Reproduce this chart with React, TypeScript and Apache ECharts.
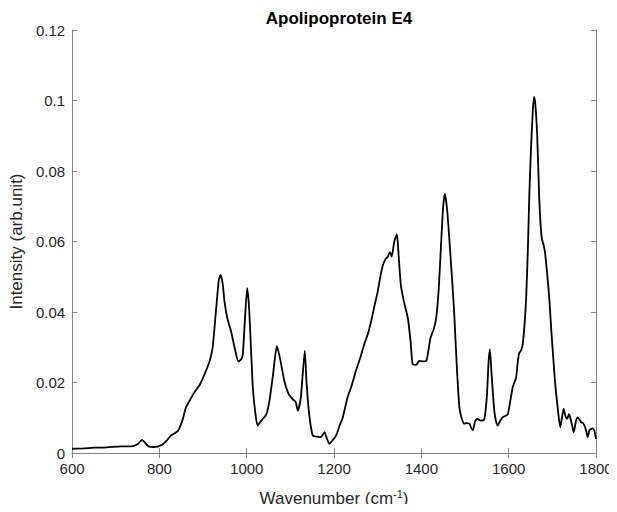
import React, { useEffect, useRef } from "react";
import * as echarts from "echarts";

const titleText = "Apolipoprotein E4";
const xTicks = [600, 800, 1000, 1200, 1400, 1600, 1800];
const yTicks = [0, 0.02, 0.04, 0.06, 0.08, 0.1, 0.12];

const wavenumber = [
  600, 625, 651, 680, 712, 735, 750, 760, 768, 775, 788, 804, 815, 827, 842, 852, 861, 870, 880, 893,
  907, 915, 922, 930, 936, 940, 945, 949, 956, 964, 972, 981, 987, 991, 995, 1001, 1005, 1008, 1014, 1020,
  1025, 1031, 1037, 1045, 1052, 1060, 1069, 1076, 1086, 1095, 1105, 1112, 1117, 1124, 1128, 1133, 1137, 1143, 1151, 1158,
  1166, 1172, 1178, 1184, 1189, 1196, 1205, 1212, 1220, 1231, 1240, 1250, 1260, 1269, 1278, 1285, 1293, 1300, 1306, 1312,
  1318, 1323, 1328, 1332, 1338, 1344, 1348, 1353, 1360, 1369, 1375, 1380, 1388, 1395, 1403, 1411, 1416, 1421, 1428, 1434,
  1440, 1445, 1450, 1454, 1459, 1464, 1470, 1475, 1481, 1487, 1492, 1498, 1504, 1510, 1514, 1518, 1523, 1528, 1536, 1544,
  1550, 1554, 1557, 1561, 1567, 1571, 1575, 1580, 1586, 1592, 1598, 1604, 1609, 1613, 1617, 1621, 1624, 1628, 1632, 1636,
  1640, 1644, 1647, 1651, 1655, 1658, 1661, 1665, 1668, 1670, 1673, 1676, 1680, 1683, 1688, 1693, 1697, 1701, 1705, 1708,
  1713, 1718, 1722, 1726, 1730, 1734, 1738, 1741, 1745, 1749, 1754, 1758, 1762, 1766, 1770, 1775, 1778, 1781, 1785, 1788,
  1792, 1796, 1800,
];

const intensity = [
  0.0012, 0.0013, 0.0015, 0.0016, 0.0019, 0.0019, 0.0025, 0.0037, 0.0028, 0.0019, 0.0017, 0.0022, 0.0033, 0.005, 0.0062, 0.009, 0.013, 0.015, 0.0172, 0.0195,
  0.0234, 0.026, 0.03, 0.041, 0.049, 0.0505, 0.048, 0.043, 0.038, 0.0346, 0.03, 0.026, 0.0265, 0.028, 0.036, 0.0468, 0.042, 0.0346, 0.0186, 0.011,
  0.0078, 0.0088, 0.0097, 0.011, 0.0148, 0.022, 0.0303, 0.027, 0.0205, 0.017, 0.0153, 0.0145, 0.012, 0.0158, 0.022, 0.029, 0.02, 0.011, 0.005, 0.0047,
  0.0045, 0.0047, 0.0059, 0.004, 0.0026, 0.0035, 0.005, 0.0075, 0.0101, 0.0158, 0.019, 0.0233, 0.027, 0.0308, 0.034, 0.0374, 0.042, 0.0458, 0.05, 0.0533,
  0.055, 0.0557, 0.057, 0.0557, 0.06, 0.062, 0.056, 0.0477, 0.043, 0.0383, 0.032, 0.0252, 0.025, 0.0261, 0.026, 0.0261, 0.029, 0.0327, 0.035, 0.0383,
  0.047, 0.059, 0.07, 0.0735, 0.069, 0.0608, 0.05, 0.0402, 0.025, 0.013, 0.01, 0.0083, 0.0085, 0.0083, 0.0072, 0.0064, 0.009, 0.0097, 0.0092, 0.0095,
  0.016, 0.026, 0.0294, 0.022, 0.012, 0.009, 0.0078, 0.009, 0.0101, 0.0105, 0.011, 0.015, 0.0186, 0.02, 0.0214, 0.026, 0.0284, 0.029, 0.0308, 0.036,
  0.0439, 0.058, 0.0721, 0.086, 0.0965, 0.101, 0.099, 0.0909, 0.08, 0.0721, 0.065, 0.0608, 0.059, 0.0571, 0.051, 0.0439, 0.036, 0.0289, 0.022, 0.0177,
  0.012, 0.0073, 0.01, 0.0125, 0.0105, 0.0097, 0.011, 0.0101, 0.008, 0.0059, 0.009, 0.0101, 0.0095, 0.0087, 0.0085, 0.0073, 0.006, 0.0045, 0.0065, 0.0068,
  0.007, 0.0064, 0.004,
];

const FONT = "'Liberation Sans', Arial, Helvetica, sans-serif";
const AXIS_COLOR = "#858585";
const TEXT_COLOR = "#262626";

export default function App() {
  const ref = useRef<HTMLDivElement>(null);

  useEffect(() => {
    if (!ref.current) return;
    const chart = echarts.init(ref.current, undefined, { renderer: "svg" });
    const xMin = xTicks[0];
    const xMax = xTicks[xTicks.length - 1];
    const xInt = xTicks[1] - xTicks[0];
    const yMin = yTicks[0];
    const yMax = yTicks[yTicks.length - 1];
    const yInt = 0.02;

    const common = {
      axisLine: { show: true, lineStyle: { color: AXIS_COLOR, width: 1 } },
      axisTick: { show: true, inside: true, length: 5, lineStyle: { color: AXIS_COLOR } },
      splitLine: { show: false },
    };

    chart.setOption({
      animation: false,
      backgroundColor: "#ffffff",
      title: {
        text: titleText,
        left: 334,
        top: 5,
        textAlign: "center",
        textStyle: { fontFamily: FONT, fontSize: 17, fontWeight: "bold", color: "#000" },
      },
      grid: { left: 71, right: 21, top: 30, bottom: 56 },
      xAxis: [
        {
          type: "value",
          min: xMin,
          max: xMax,
          interval: xInt,
          position: "bottom",
          ...common,
          axisLabel: {
            color: TEXT_COLOR,
            fontFamily: FONT,
            fontSize: 15,
            margin: 8,
            formatter: (v: number) => String(v),
          },
          name: "{b|Wavenumber (cm}{s|-1}{b|)}",
          nameLocation: "middle",
          nameGap: 35,
          nameTextStyle: {
            color: TEXT_COLOR,
            fontFamily: FONT,
            fontSize: 17,
            rich: {
              b: { fontFamily: FONT, fontSize: 17, color: TEXT_COLOR, verticalAlign: "bottom" },
              s: { fontFamily: FONT, fontSize: 11, color: TEXT_COLOR, verticalAlign: "bottom", padding: [0, 0, 8, 0] },
            },
          },
        },
        {
          type: "value",
          min: xMin,
          max: xMax,
          interval: xInt,
          position: "top",
          ...common,
          axisLabel: { show: false },
        },
      ],
      yAxis: [
        {
          type: "value",
          min: yMin,
          max: yMax,
          interval: yInt,
          position: "left",
          ...common,
          axisLabel: {
            color: TEXT_COLOR,
            fontFamily: FONT,
            fontSize: 15,
            margin: 7,
            formatter: (v: number) => {
              const r = Math.round(v * 1000) / 1000;
              return String(r);
            },
          },
          name: "Intensity (arb.unit)",
          nameLocation: "middle",
          nameGap: 41,
          nameTextStyle: { color: TEXT_COLOR, fontFamily: FONT, fontSize: 17 },
        },
        {
          type: "value",
          min: yMin,
          max: yMax,
          interval: yInt,
          position: "right",
          ...common,
          axisLabel: { show: false },
        },
      ],
      series: [
        {
          type: "line",
          xAxisIndex: 0,
          yAxisIndex: 0,
          data: wavenumber.map((w, i) => [w, intensity[i]]),
          showSymbol: false,
          smooth: 0.2,
          lineStyle: { color: "#000000", width: 1.8 },
        },
      ],
    });
    return () => chart.dispose();
  }, []);

  return <div ref={ref} style={{ width: 617, height: 512, margin: -8 }} />;
}
